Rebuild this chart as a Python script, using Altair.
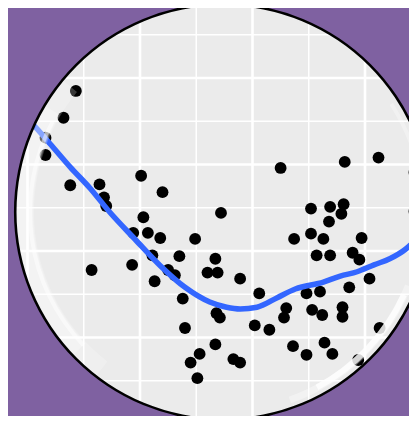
import altair as alt
import pandas as pd

# scatter points (x, y)
pt_x = [1.43, 1.32, 1.16, 1.16, 1.38, 1.64, 1.68, 1.70, 2.01, 2.20,
        2.03, 1.94, 2.07, 2.18, 2.49, 2.72, 3.25, 3.82, 4.12, 4.44,
        4.44, 3.52, 3.69, 3.81, 3.79, 3.68, 3.52, 3.63, 3.37, 3.97,
        2.11, 2.35, 1.57, 1.93, 2.25, 2.31, 2.13, 2.67, 2.60, 2.69,
        2.89, 2.38, 3.06, 3.57, 3.69, 3.89, 3.95, 4.04, 3.86, 3.60,
        3.48, 2.68, 2.71, 2.40, 3.02, 3.15, 3.30, 3.28, 3.53, 3.62,
        3.80, 3.80, 4.13, 2.67, 2.53, 2.45, 2.51, 2.83, 2.89, 3.36,
        3.48, 3.64, 3.71, 3.94]
pt_y = [38.5, 35.4, 33.1, 31.1, 27.6, 27.7, 26.2, 25.2, 28.7, 26.8,
        23.9, 22.1, 22.1, 21.5, 21.4, 24.4, 29.6, 30.3, 30.8, 29.1,
        24.6, 24.9, 25.1, 25.4, 24.3, 23.4, 22.0, 21.4, 21.4, 21.5,
        19.5, 19.4, 17.8, 18.4, 17.8, 17.2, 16.5, 19.1, 17.5, 17.5,
        16.8, 14.5, 15.1, 19.5, 19.5, 19.8, 19.0, 16.8, 15.8, 15.3,
        15.1, 12.8, 12.3, 11.1, 11.4, 10.9, 13.4, 12.3, 13.2, 12.6,
        13.5, 12.4, 11.1, 9.2, 8.1, 7.1, 5.3, 7.5, 7.1, 9.0,
        8.0, 9.4, 8.1, 7.4]

# smooth curve
sm_x = [0.98, 1.05, 1.20, 1.38, 1.56, 1.73, 1.96, 2.18, 2.40, 2.62, 2.77,
        2.89, 3.04, 3.22, 3.38, 3.63, 3.78, 3.93, 4.08, 4.22, 4.36, 4.46]
sm_y = [35.5, 34.6, 32.4, 29.7, 27.2, 24.5, 21.3, 18.3, 15.8, 14.1, 13.5,
        13.3, 13.5, 14.6, 15.6, 16.4, 17.1, 17.6, 18.4, 19.1, 20.2, 21.4]

# grid lines
x_major = [1.0, 2.0, 3.0, 4.0]
x_minor = [1.5, 2.5, 3.5]
y_major = [10, 20, 30, 40]
y_minor = [5, 15, 25, 35, 45]

PURPLE = "#7F61A1"
W, H = 401, 408
CX, CY, R = 215, 204, 208

xs = alt.Scale(domain=[0.8267, 4.3911], nice=False, zero=False)
ys = alt.Scale(domain=[0.925, 48.09], nice=False, zero=False)

pts = pd.DataFrame({"x": pt_x, "y": pt_y})
smooth = pd.DataFrame({"x": sm_x, "y": sm_y})
one = pd.DataFrame({"a": [0]})


def vrules(vals, w):
    return alt.Chart(pd.DataFrame({"v": vals})).mark_rule(color="white", strokeWidth=w).encode(
        x=alt.X("v:Q", scale=xs, axis=None))


def hrules(vals, w):
    return alt.Chart(pd.DataFrame({"v": vals})).mark_rule(color="white", strokeWidth=w).encode(
        y=alt.Y("v:Q", scale=ys, axis=None))


def ring(inner, outer, t1, t2, color, opacity=1.0):
    return alt.Chart(one).mark_arc(innerRadius=inner, outerRadius=outer, theta=t1, theta2=t2,
                                   color=color, opacity=opacity).encode(
        x=alt.value(CX), y=alt.value(CY))


points = alt.Chart(pts).mark_circle(color="black", size=140, opacity=1).encode(
    x=alt.X("x:Q", scale=xs, axis=None), y=alt.Y("y:Q", scale=ys, axis=None))

line = alt.Chart(smooth).mark_line(color="#3366FF", strokeWidth=5.5, interpolate="monotone").encode(
    x=alt.X("x:Q", scale=xs, axis=None), y=alt.Y("y:Q", scale=ys, axis=None))

chart = alt.layer(
    vrules(x_minor, 1.5), hrules(y_minor, 1.5),
    vrules(x_major, 2.6), hrules(y_major, 2.6),
    points, line,
    ring(R, 900, 0, 6.2832, PURPLE),
    # left glossy glow
    ring(189, 207, 3.8, 5.4, "white", 0.22),
    ring(190, 206, 3.95, 5.25, "white", 0.25),
    ring(191, 195, 3.95, 5.2, "white", 0.5),
    # bottom-right highlight
    ring(196, 203, 1.95, 2.8, "white", 0.35),
    ring(196, 202, 2.0, 2.65, "white", 0.75),
    # faint top-right highlight
    ring(198, 202, 1.0, 1.6, "white", 0.3),
    ring(R - 1.5, R + 1, 0, 6.2832, "black"),
).properties(
    width=W, height=H, padding=0, background=PURPLE,
    autosize=alt.AutoSizeParams(type="none"),
).configure_view(strokeWidth=0, fill="#EBEBEB")

chart.save("out.html", embed_options={"renderer": "svg", "actions": False})
